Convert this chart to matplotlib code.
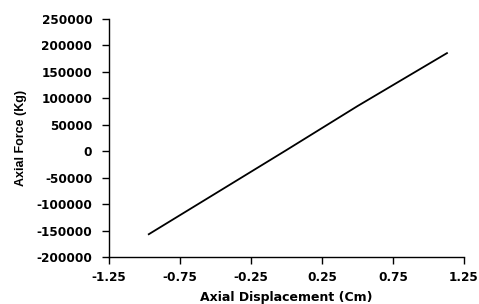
import numpy as np
import matplotlib.pyplot as plt

plt.rcParams['font.family'] = ['DejaVu Sans']
plt.rcParams['font.weight'] = 'bold'

# Load / displacement readings
displacement = [-0.97, -0.50, 0.00, 0.50, 1.13]
force = [-157000, -80000, 2000, 85000, 185000]

x_ticks = [-1.25, -0.75, -0.25, 0.25, 0.75, 1.25]
y_ticks = [-200000, -150000, -100000, -50000, 0, 50000, 100000, 150000, 200000, 250000]

fig = plt.figure(figsize=(4.79, 3.04), dpi=100)
ax = fig.add_axes([0.2276, 0.1546, 0.7411, 0.7839])

ax.plot(displacement, force, color='black', linewidth=1.3)

ax.set_xlim(-1.25, 1.25)
ax.set_ylim(-200000, 250000)
ax.set_xticks(x_ticks)
ax.set_xticklabels([f'{t:.2f}' for t in x_ticks])
ax.set_yticks(y_ticks)
ax.set_yticklabels([str(t) for t in y_ticks])
ax.tick_params(labelsize=8.7, length=5, width=1, direction='out')
ax.tick_params(axis='x', pad=5)
ax.tick_params(axis='y', pad=7)

for side in ['top', 'right']:
    ax.spines[side].set_visible(False)
for side in ['left', 'bottom']:
    ax.spines[side].set_linewidth(1)

ax.set_xlabel('Axial Displacement (Cm)', fontsize=9, fontweight='bold', labelpad=5)
ax.set_ylabel('Axial Force (Kg)', fontsize=9, fontweight='bold',
              family=['Liberation Sans', 'DejaVu Sans'], labelpad=7)

fig.savefig('out.png', dpi=100)
